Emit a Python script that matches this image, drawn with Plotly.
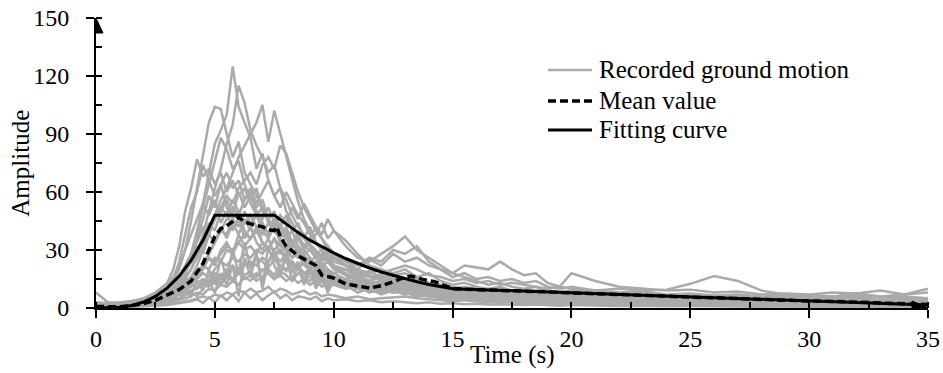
import plotly.graph_objects as go

# ---- time grids (s) ----
t_rec = [0, 0.5, 1, 1.5, 2, 2.5, 3, 3.25, 3.5, 3.75,
         4, 4.25, 4.5, 4.75, 5, 5.25, 5.5, 5.75, 6, 6.25,
         6.5, 6.75, 7, 7.25, 7.5, 7.75, 8, 8.25, 8.5, 8.75,
         9, 9.25, 9.5, 9.75, 10, 10.5, 11, 11.5, 12, 12.5,
         13, 13.5, 14, 14.5, 15, 15.5, 16, 16.5, 17, 17.5,
         18, 18.5, 19, 19.5, 20, 21, 22, 23, 24, 25,
         26, 27, 28, 29, 30, 31, 32, 33, 34, 35]

# ---- recorded ground motion amplitudes (one list per record) ----
rec01 = [1.5, 1.0, 1.2, 1.8, 2.5, 4.0, 6.5, 9.0, 12.0, 18.0,
         26.0, 38.0, 55.0, 70.0, 85.0, 92.0, 100.0, 125.0, 104.0, 96.0,
         88.0, 72.0, 80.0, 66.0, 58.0, 62.0, 50.0, 44.0, 38.0, 30.0,
         26.0, 22.0, 18.0, 20.0, 16.0, 13.0, 10.0, 9.0, 11.0, 13.0,
         12.0, 10.0, 9.0, 7.5, 6.0, 6.5, 5.5, 5.0, 4.5, 4.0,
         4.5, 3.5, 3.0, 3.5, 3.0, 2.5, 2.0, 2.5, 2.0, 1.5,
         2.0, 1.5, 1.0, 1.5, 1.0, 1.2, 0.8, 1.0, 0.8, 1.0]
rec02 = [2.0, 1.5, 1.8, 2.5, 3.5, 6.0, 10.0, 14.0, 20.0, 30.0,
         45.0, 62.0, 80.0, 96.0, 104.0, 103.0, 90.0, 78.0, 86.0, 70.0,
         64.0, 58.0, 52.0, 46.0, 40.0, 44.0, 36.0, 30.0, 27.0, 24.0,
         20.0, 18.0, 15.0, 14.0, 12.0, 14.0, 11.0, 9.0, 8.0, 10.0,
         9.0, 7.0, 6.5, 6.0, 5.0, 4.5, 5.0, 4.0, 3.5, 4.0,
         3.5, 3.0, 3.5, 2.5, 3.0, 2.0, 2.5, 2.0, 1.5, 2.0,
         1.5, 1.8, 1.2, 1.0, 1.5, 1.0, 1.2, 0.8, 1.0, 0.6]
rec03 = [1.0, 0.8, 1.0, 1.5, 2.0, 3.0, 5.0, 7.0, 9.0, 12.0,
         16.0, 22.0, 30.0, 38.0, 48.0, 56.0, 62.0, 70.0, 78.0, 84.0,
         90.0, 96.0, 105.0, 86.0, 102.0, 90.0, 78.0, 66.0, 55.0, 46.0,
         40.0, 34.0, 30.0, 26.0, 22.0, 18.0, 15.0, 13.0, 14.0, 12.0,
         11.0, 10.0, 8.5, 8.0, 7.0, 7.5, 6.5, 6.0, 6.5, 5.5,
         5.0, 5.5, 4.5, 4.0, 4.5, 4.0, 3.5, 3.0, 3.5, 3.0,
         2.5, 2.8, 2.5, 2.0, 2.2, 1.8, 2.0, 1.5, 1.8, 1.5]
rec04 = [2.5, 2.0, 2.5, 3.5, 5.0, 8.0, 13.0, 20.0, 32.0, 50.0,
         62.0, 77.0, 68.0, 72.0, 64.0, 70.0, 60.0, 66.0, 58.0, 62.0,
         54.0, 48.0, 52.0, 44.0, 40.0, 36.0, 32.0, 34.0, 28.0, 25.0,
         22.0, 24.0, 20.0, 18.0, 16.0, 15.0, 13.0, 12.0, 13.0, 11.0,
         10.0, 9.0, 8.0, 7.0, 6.5, 6.0, 5.5, 6.0, 5.0, 4.5,
         4.0, 4.5, 3.5, 3.0, 3.5, 3.0, 2.5, 3.0, 2.5, 2.0,
         2.2, 2.0, 1.5, 1.8, 1.5, 1.2, 1.5, 1.0, 1.2, 1.0]
rec05 = [1.0, 0.8, 1.2, 1.5, 2.5, 4.0, 6.0, 8.0, 11.0, 15.0,
         20.0, 28.0, 38.0, 50.0, 62.0, 72.0, 85.0, 95.0, 115.0, 106.0,
         92.0, 84.0, 78.0, 70.0, 74.0, 62.0, 56.0, 48.0, 42.0, 38.0,
         33.0, 30.0, 26.0, 24.0, 21.0, 17.0, 14.0, 12.0, 11.0, 12.0,
         10.0, 9.0, 8.0, 7.0, 6.0, 5.5, 6.0, 5.0, 4.5, 5.0,
         4.0, 3.5, 4.0, 3.0, 3.5, 2.5, 3.0, 2.5, 2.0, 2.5,
         2.0, 1.5, 1.8, 1.5, 1.2, 1.5, 1.0, 1.2, 1.0, 0.8]
rec06 = [1.5, 1.2, 1.5, 2.0, 3.0, 4.5, 7.0, 9.0, 12.0, 16.0,
         20.0, 26.0, 32.0, 40.0, 46.0, 52.0, 58.0, 54.0, 62.0, 66.0,
         70.0, 64.0, 74.0, 78.0, 72.0, 84.0, 80.0, 70.0, 60.0, 52.0,
         46.0, 40.0, 36.0, 30.0, 26.0, 22.0, 18.0, 16.0, 15.0, 13.0,
         12.0, 11.0, 10.0, 9.0, 8.5, 8.0, 7.5, 7.0, 7.5, 6.5,
         6.0, 6.5, 5.5, 5.0, 5.5, 5.0, 4.5, 4.0, 4.5, 4.0,
         3.5, 3.8, 3.2, 3.0, 3.2, 2.8, 3.0, 2.5, 2.8, 2.5]
rec07 = [2.0, 1.5, 2.0, 2.8, 4.0, 6.0, 9.0, 12.0, 16.0, 22.0,
         28.0, 34.0, 42.0, 38.0, 46.0, 52.0, 48.0, 56.0, 50.0, 44.0,
         48.0, 42.0, 38.0, 44.0, 40.0, 36.0, 40.0, 34.0, 38.0, 32.0,
         36.0, 42.0, 38.0, 46.0, 40.0, 32.0, 26.0, 24.0, 28.0, 32.0,
         37.0, 30.0, 26.0, 22.0, 18.0, 16.0, 14.0, 12.0, 13.0, 11.0,
         10.0, 11.0, 9.0, 8.0, 9.0, 8.0, 7.0, 6.5, 6.0, 5.5,
         5.0, 5.5, 4.5, 4.0, 4.5, 4.0, 3.5, 3.0, 3.2, 3.0]
rec08 = [3.0, 2.5, 3.0, 3.5, 4.5, 6.0, 8.0, 10.0, 12.0, 14.0,
         16.0, 18.0, 22.0, 20.0, 26.0, 24.0, 30.0, 28.0, 34.0, 30.0,
         32.0, 28.0, 34.0, 30.0, 36.0, 32.0, 30.0, 34.0, 28.0, 32.0,
         30.0, 26.0, 28.0, 24.0, 26.0, 22.0, 20.0, 25.0, 22.0, 28.0,
         24.0, 26.0, 22.0, 20.0, 18.0, 22.0, 21.0, 20.0, 24.0, 20.0,
         17.0, 18.0, 13.0, 11.0, 18.0, 14.0, 11.0, 10.0, 9.0, 9.5,
         8.0, 8.5, 7.0, 7.5, 7.0, 8.0, 7.5, 9.0, 7.0, 8.0]
rec09 = [1.0, 1.2, 1.5, 2.0, 2.5, 3.5, 5.0, 6.0, 8.0, 9.0,
         11.0, 13.0, 15.0, 14.0, 18.0, 16.0, 20.0, 22.0, 19.0, 24.0,
         22.0, 26.0, 24.0, 21.0, 25.0, 22.0, 20.0, 24.0, 21.0, 18.0,
         20.0, 17.0, 19.0, 16.0, 18.0, 15.0, 17.0, 14.0, 18.0, 20.0,
         22.0, 20.0, 17.0, 16.0, 14.0, 15.0, 13.0, 14.0, 12.0, 13.0,
         12.0, 11.0, 10.0, 11.0, 10.0, 9.0, 10.0, 9.0, 9.5, 12.5,
         16.5, 14.0, 9.0, 7.0, 6.5, 6.0, 6.5, 5.5, 6.0, 5.0]
rec10 = [2.0, 1.5, 2.0, 2.5, 3.0, 4.0, 5.0, 6.0, 7.0, 8.0,
         9.0, 10.0, 12.0, 11.0, 14.0, 12.0, 16.0, 14.0, 18.0, 15.0,
         17.0, 14.0, 16.0, 18.0, 15.0, 17.0, 14.0, 16.0, 13.0, 15.0,
         12.0, 14.0, 11.0, 13.0, 12.0, 10.0, 11.0, 9.0, 10.0, 11.0,
         12.0, 10.0, 11.0, 9.0, 8.0, 9.0, 8.0, 7.5, 8.0, 7.0,
         6.5, 7.0, 6.0, 6.5, 6.0, 5.5, 5.0, 5.5, 5.0, 4.5,
         4.0, 4.5, 4.0, 3.5, 3.8, 3.5, 3.0, 3.2, 2.8, 3.0]
rec11 = [0.5, 0.4, 0.6, 0.8, 1.0, 1.5, 2.0, 2.5, 3.0, 3.5,
         4.0, 5.0, 6.0, 5.0, 7.0, 6.0, 8.0, 7.0, 9.0, 8.0,
         10.0, 8.0, 9.0, 11.0, 8.0, 10.0, 9.0, 7.0, 8.0, 9.0,
         7.0, 8.0, 6.0, 7.0, 6.5, 5.0, 6.0, 4.5, 5.0, 5.5,
         6.0, 5.0, 4.5, 4.0, 3.5, 4.0, 3.5, 3.0, 3.5, 3.0,
         2.5, 3.0, 2.5, 2.0, 2.5, 2.0, 1.8, 2.0, 1.5, 1.8,
         1.5, 1.2, 1.5, 1.0, 1.2, 1.0, 0.8, 1.0, 0.8, 0.6]
rec12 = [1.2, 1.0, 1.2, 1.6, 2.2, 3.2, 4.5, 6.0, 8.0, 10.0,
         13.0, 17.0, 22.0, 28.0, 34.0, 40.0, 38.0, 46.0, 42.0, 50.0,
         44.0, 48.0, 40.0, 36.0, 42.0, 34.0, 30.0, 26.0, 28.0, 22.0,
         20.0, 18.0, 16.0, 17.0, 14.0, 12.0, 10.0, 9.0, 9.5, 8.0,
         8.5, 7.0, 6.5, 6.0, 5.0, 5.5, 4.5, 4.0, 4.5, 3.5,
         3.0, 3.5, 3.0, 2.5, 2.8, 2.2, 2.0, 2.2, 1.8, 1.5,
         1.6, 1.4, 1.2, 1.3, 1.0, 1.1, 0.9, 0.8, 0.9, 0.7]
rec13 = [1.8, 1.4, 1.6, 2.0, 2.6, 3.5, 4.5, 5.5, 7.0, 8.0,
         9.0, 11.0, 12.0, 14.0, 16.0, 15.0, 18.0, 20.0, 18.0, 22.0,
         24.0, 22.0, 26.0, 24.0, 28.0, 30.0, 26.0, 32.0, 36.0, 30.0,
         34.0, 38.0, 44.0, 36.0, 40.0, 35.0, 28.0, 22.0, 20.0, 18.0,
         20.0, 16.0, 18.0, 14.0, 12.0, 13.0, 11.0, 10.0, 11.0, 9.0,
         8.5, 9.0, 8.0, 7.0, 7.5, 6.5, 6.0, 5.5, 5.0, 5.5,
         4.5, 4.0, 4.5, 3.8, 3.5, 3.2, 3.0, 3.5, 2.8, 3.0]
rec14 = [8.0, 3.0, 2.5, 3.0, 3.5, 5.0, 7.0, 8.0, 10.0, 9.0,
         12.0, 10.0, 14.0, 12.0, 16.0, 13.0, 18.0, 15.0, 20.0, 17.0,
         19.0, 16.0, 20.0, 18.0, 15.0, 19.0, 17.0, 14.0, 18.0, 16.0,
         14.0, 17.0, 13.0, 15.0, 12.0, 14.0, 11.0, 12.0, 10.0, 11.0,
         10.0, 9.0, 10.0, 8.5, 8.0, 7.5, 8.0, 7.0, 6.5, 7.0,
         6.0, 6.5, 6.0, 5.5, 7.0, 6.0, 5.5, 6.0, 5.0, 5.5,
         5.0, 4.5, 5.0, 6.0, 5.5, 6.0, 7.5, 6.0, 7.0, 10.0]
rec15 = [1.0, 0.8, 1.0, 1.5, 2.2, 3.5, 5.5, 8.0, 12.0, 18.0,
         24.0, 30.0, 36.0, 44.0, 40.0, 50.0, 56.0, 48.0, 60.0, 52.0,
         58.0, 50.0, 46.0, 52.0, 44.0, 38.0, 42.0, 34.0, 30.0, 26.0,
         24.0, 20.0, 22.0, 18.0, 16.0, 14.0, 12.0, 13.0, 10.0, 11.0,
         9.0, 10.0, 8.0, 7.0, 6.0, 6.5, 5.0, 5.5, 4.5, 4.0,
         4.5, 3.5, 4.0, 3.0, 3.5, 3.0, 2.5, 2.0, 2.5, 2.0,
         1.8, 2.0, 1.5, 1.8, 1.2, 1.5, 1.0, 1.2, 1.0, 0.8]
rec16 = [2.2, 1.8, 2.2, 3.0, 4.5, 7.0, 11.0, 16.0, 22.0, 30.0,
         38.0, 46.0, 54.0, 48.0, 56.0, 44.0, 50.0, 40.0, 46.0, 36.0,
         42.0, 34.0, 30.0, 36.0, 28.0, 24.0, 28.0, 22.0, 20.0, 24.0,
         18.0, 20.0, 16.0, 14.0, 15.0, 12.0, 10.0, 11.0, 9.0, 10.0,
         8.0, 8.5, 7.0, 6.5, 6.0, 5.0, 5.5, 4.5, 5.0, 4.0,
         3.5, 4.0, 3.0, 3.5, 3.0, 2.5, 2.0, 2.5, 2.0, 1.8,
         1.5, 1.8, 1.2, 1.5, 1.0, 1.2, 0.8, 1.0, 0.7, 0.8]
rec17 = [0.8, 0.6, 0.8, 1.2, 1.8, 2.8, 4.0, 5.0, 7.0, 9.0,
         12.0, 16.0, 20.0, 26.0, 22.0, 30.0, 34.0, 28.0, 38.0, 32.0,
         36.0, 40.0, 34.0, 30.0, 36.0, 28.0, 32.0, 26.0, 30.0, 24.0,
         26.0, 22.0, 24.0, 20.0, 18.0, 20.0, 16.0, 14.0, 16.0, 17.0,
         18.0, 15.0, 13.0, 12.0, 10.0, 11.0, 9.0, 8.0, 9.0, 8.0,
         7.0, 7.5, 6.5, 6.0, 6.5, 5.5, 5.0, 5.5, 4.5, 4.0,
         4.5, 4.0, 3.5, 3.8, 3.2, 3.0, 2.8, 3.0, 2.5, 2.2]
rec18 = [1.5, 1.0, 1.2, 1.6, 2.0, 2.5, 3.5, 4.0, 5.0, 6.5,
         8.0, 6.0, 10.0, 14.0, 8.0, 18.0, 12.0, 22.0, 6.0, 26.0,
         16.0, 28.0, 10.0, 24.0, 30.0, 18.0, 26.0, 14.0, 22.0, 12.0,
         20.0, 10.0, 16.0, 8.0, 14.0, 10.0, 12.0, 8.0, 10.0, 9.0,
         7.0, 8.0, 6.0, 5.0, 5.5, 4.5, 5.0, 4.0, 3.5, 4.0,
         3.0, 3.5, 2.5, 3.0, 2.5, 2.0, 2.2, 1.8, 2.0, 1.5,
         1.5, 1.2, 1.4, 1.0, 1.2, 0.9, 1.0, 0.8, 0.9, 0.7]
rec19 = [1.2, 1.0, 1.4, 2.0, 3.0, 5.0, 8.0, 11.0, 15.0, 20.0,
         28.0, 36.0, 46.0, 58.0, 52.0, 64.0, 70.0, 62.0, 66.0, 56.0,
         60.0, 52.0, 56.0, 46.0, 50.0, 40.0, 36.0, 40.0, 32.0, 28.0,
         30.0, 26.0, 22.0, 24.0, 20.0, 17.0, 15.0, 13.0, 12.0, 14.0,
         13.0, 11.0, 10.0, 9.0, 8.0, 7.5, 7.0, 6.5, 6.0, 6.5,
         5.5, 5.0, 5.5, 4.5, 4.0, 4.5, 3.5, 3.0, 3.5, 3.0,
         2.5, 2.8, 2.2, 2.5, 2.0, 2.2, 1.8, 1.5, 1.8, 1.5]
rec20 = [0.6, 0.5, 0.7, 1.0, 1.5, 2.0, 3.0, 3.5, 4.5, 5.0,
         6.0, 8.0, 7.0, 10.0, 9.0, 12.0, 11.0, 14.0, 12.0, 16.0,
         14.0, 18.0, 15.0, 20.0, 17.0, 22.0, 19.0, 24.0, 20.0, 26.0,
         22.0, 28.0, 24.0, 30.0, 26.0, 24.0, 22.0, 26.0, 24.0, 30.0,
         28.0, 32.0, 24.0, 20.0, 16.0, 18.0, 15.0, 16.0, 14.0, 15.0,
         13.0, 14.0, 11.0, 10.0, 11.0, 9.0, 8.0, 8.5, 7.0, 7.5,
         6.5, 7.0, 6.0, 6.5, 5.5, 6.0, 5.0, 5.5, 4.5, 5.0]
rec21 = [1.8, 1.5, 1.8, 2.4, 3.4, 5.0, 7.5, 10.0, 14.0, 19.0,
         24.0, 32.0, 28.0, 38.0, 34.0, 42.0, 36.0, 44.0, 38.0, 46.0,
         40.0, 50.0, 44.0, 38.0, 46.0, 42.0, 48.0, 40.0, 44.0, 36.0,
         32.0, 28.0, 30.0, 24.0, 22.0, 20.0, 18.0, 19.0, 16.0, 15.0,
         14.0, 12.0, 11.0, 10.0, 9.0, 8.5, 8.0, 7.5, 7.0, 6.5,
         6.0, 5.5, 5.0, 5.5, 4.5, 4.0, 3.5, 4.0, 3.5, 3.0,
         3.0, 2.8, 2.5, 2.6, 2.2, 2.0, 2.2, 1.8, 2.0, 1.6]
rec22 = [0.4, 0.3, 0.4, 0.6, 0.8, 1.2, 1.6, 2.0, 2.5, 3.0,
         3.5, 4.5, 2.5, 5.5, 3.0, 6.5, 4.0, 7.0, 3.5, 8.0,
         5.0, 7.5, 4.0, 6.5, 8.5, 5.0, 7.0, 4.0, 6.0, 5.5,
         4.5, 6.0, 3.5, 5.0, 4.0, 4.5, 3.5, 4.0, 3.0, 3.5,
         3.0, 2.5, 3.0, 2.2, 2.5, 2.0, 2.2, 1.8, 2.0, 1.6,
         1.5, 1.8, 1.4, 1.2, 1.5, 1.2, 1.0, 1.2, 0.9, 1.0,
         0.8, 0.9, 0.7, 0.8, 0.6, 0.7, 0.5, 0.6, 0.5, 0.4]
rec23 = [2.4, 2.0, 2.4, 3.0, 4.0, 5.5, 7.0, 8.0, 9.5, 11.0,
         13.0, 15.0, 18.0, 16.0, 20.0, 24.0, 22.0, 26.0, 24.0, 28.0,
         26.0, 30.0, 28.0, 32.0, 30.0, 34.0, 36.0, 32.0, 40.0, 36.0,
         42.0, 34.0, 30.0, 28.0, 24.0, 22.0, 18.0, 16.0, 17.0, 15.0,
         14.0, 16.0, 13.0, 12.0, 11.0, 10.0, 11.0, 9.0, 10.0, 8.5,
         9.0, 8.0, 7.5, 8.5, 7.0, 7.5, 6.5, 7.0, 6.0, 6.5,
         5.5, 6.0, 5.0, 5.5, 4.5, 5.0, 4.5, 4.0, 4.5, 4.0]
rec24 = [1.4, 1.1, 1.3, 1.8, 2.8, 4.5, 7.5, 10.0, 14.0, 20.0,
         28.0, 40.0, 52.0, 64.0, 76.0, 88.0, 82.0, 72.0, 76.0, 64.0,
         56.0, 62.0, 50.0, 46.0, 42.0, 36.0, 40.0, 30.0, 26.0, 28.0,
         22.0, 20.0, 18.0, 16.0, 14.0, 12.0, 11.0, 10.0, 9.0, 8.0,
         8.5, 7.0, 6.5, 6.0, 5.5, 5.0, 4.5, 5.0, 4.0, 3.5,
         3.0, 3.5, 3.0, 2.5, 2.8, 2.2, 2.0, 2.2, 1.8, 1.6,
         1.5, 1.4, 1.2, 1.3, 1.0, 1.1, 0.9, 0.8, 0.9, 0.7]
rec25 = [1.6, 1.2, 1.6, 2.4, 3.6, 6.0, 10.0, 15.0, 24.0, 38.0,
         52.0, 60.0, 74.0, 66.0, 58.0, 64.0, 52.0, 46.0, 50.0, 40.0,
         36.0, 42.0, 34.0, 30.0, 26.0, 30.0, 24.0, 20.0, 22.0, 18.0,
         16.0, 15.0, 14.0, 12.0, 13.0, 11.0, 10.0, 9.0, 8.0, 9.0,
         8.0, 7.0, 6.0, 5.5, 5.0, 4.5, 5.0, 4.0, 3.5, 3.8,
         3.2, 3.0, 2.8, 3.0, 2.5, 2.2, 2.0, 1.8, 2.0, 1.6,
         1.5, 1.4, 1.2, 1.3, 1.1, 1.0, 1.1, 0.9, 0.8, 0.9]
rec26 = [0.9, 0.7, 0.9, 1.3, 2.0, 3.0, 4.5, 6.0, 8.0, 11.0,
         14.0, 18.0, 22.0, 28.0, 34.0, 40.0, 46.0, 52.0, 48.0, 56.0,
         62.0, 54.0, 60.0, 66.0, 58.0, 52.0, 60.0, 54.0, 48.0, 44.0,
         38.0, 34.0, 30.0, 32.0, 26.0, 22.0, 19.0, 17.0, 15.0, 14.0,
         13.0, 12.0, 10.0, 9.0, 8.0, 7.5, 7.0, 6.5, 6.0, 5.5,
         5.0, 4.8, 4.5, 4.0, 4.2, 3.6, 3.2, 3.4, 3.0, 2.8,
         2.5, 2.6, 2.2, 2.0, 2.2, 1.8, 1.6, 1.8, 1.5, 1.4]
rec27 = [1.1, 0.9, 1.1, 1.5, 2.0, 3.0, 4.0, 6.0, 4.5, 9.0,
         6.0, 14.0, 9.0, 20.0, 12.0, 26.0, 15.0, 30.0, 18.0, 34.0,
         20.0, 28.0, 12.0, 32.0, 22.0, 16.0, 30.0, 18.0, 24.0, 14.0,
         22.0, 12.0, 18.0, 10.0, 16.0, 12.0, 8.0, 10.0, 7.0, 9.0,
         8.0, 6.0, 7.0, 5.0, 4.5, 5.0, 4.0, 4.5, 3.5, 3.0,
         3.5, 2.8, 3.0, 2.5, 2.6, 2.2, 2.0, 1.8, 2.0, 1.6,
         1.4, 1.6, 1.2, 1.3, 1.0, 1.2, 0.9, 1.0, 0.8, 0.9]
rec28 = [2.6, 2.2, 2.6, 3.2, 4.2, 5.8, 7.5, 9.0, 11.0, 13.0,
         16.0, 19.0, 22.0, 26.0, 24.0, 28.0, 32.0, 30.0, 34.0, 38.0,
         36.0, 40.0, 44.0, 38.0, 42.0, 48.0, 44.0, 52.0, 46.0, 54.0,
         48.0, 42.0, 36.0, 32.0, 28.0, 24.0, 20.0, 18.0, 20.0, 16.0,
         15.0, 14.0, 12.0, 11.0, 10.0, 10.5, 9.0, 9.5, 8.0, 8.5,
         7.5, 8.0, 7.0, 6.5, 7.0, 6.0, 5.5, 6.0, 5.0, 5.0,
         4.5, 4.8, 4.2, 4.0, 3.8, 3.5, 3.2, 3.4, 3.0, 2.8]

records = [rec01, rec02, rec03, rec04, rec05, rec06, rec07, rec08,
           rec09, rec10, rec11, rec12, rec13, rec14, rec15, rec16,
           rec17, rec18, rec19, rec20, rec21, rec22, rec23, rec24,
           rec25, rec26, rec27, rec28]

# ---- mean value of the records ----
t_mean = [0, 0.5, 1, 1.5, 2, 2.5, 3, 3.5, 4, 4.5,
          5, 5.25, 5.5, 5.75, 6, 6.25, 6.5, 7, 7.25, 7.5,
          7.6, 7.75, 8, 8.5, 9, 9.25, 9.5, 10, 10.5, 11,
          11.5, 12, 12.5, 13, 13.25, 13.75, 14.25, 14.6, 15, 16,
          17, 18, 19, 20, 21, 22, 23, 24, 25, 26,
          27, 28, 29, 30, 31, 32, 33, 34, 35]
mean_val = [0.8, 0.5, 0.6, 1.2, 2.2, 4.0, 6.8, 9.5, 14.0, 23.0,
            37.0, 41.0, 42.5, 45.0, 47.0, 44.5, 43.5, 42.0, 40.5, 40.0,
            42.0, 37.0, 32.0, 27.0, 24.0, 22.0, 17.0, 15.5, 12.5, 11.3,
            10.3, 11.5, 13.5, 16.0, 16.5, 14.8, 13.6, 12.0, 10.0, 9.5,
            9.2, 8.6, 8.3, 7.8, 7.6, 7.0, 6.6, 6.0, 5.6, 5.3,
            4.8, 4.3, 3.9, 3.6, 3.4, 3.0, 2.6, 2.2, 1.8]

# ---- fitted envelope ----
t_fit = [0, 0.5, 1, 1.5, 2, 2.5, 3, 3.5, 4, 4.5,
         5, 7.5, 8, 8.5, 9, 9.5, 10, 10.5, 11, 11.5,
         12, 12.5, 13, 13.5, 14, 14.5, 15, 20, 25, 30, 35]
fit_val = [0, 0.05, 0.4, 1.3, 3.1, 6.0, 10.4, 16.5, 24.6, 35.0,
           48.0, 48.0, 43.5, 39.0, 35.0, 31.6, 28.5, 25.6, 23.0, 20.7,
           18.6, 16.8, 15.1, 13.6, 12.2, 11.0, 10.0, 7.9, 5.75, 3.6, 1.5]

FONT = "Liberation Serif, Times New Roman, serif"
GREY = "#aaaaaa"
MEAN_DASH = "8px,4px"
NBSP = "\u00a0"

fig = go.Figure()

for rec in records:
    fig.add_trace(go.Scatter(
        x=t_rec, y=rec, mode="lines",
        line=dict(color=GREY, width=2.5),
        name="Recorded ground motion", showlegend=False,
        hoverinfo="skip"))

fig.add_trace(go.Scatter(
    x=t_fit, y=fit_val, mode="lines",
    line=dict(color="black", width=3),
    name="Fitting curve", showlegend=False))

fig.add_trace(go.Scatter(
    x=t_mean, y=mean_val, mode="lines",
    line=dict(color="black", width=3.5, dash=MEAN_DASH),
    name="Mean value", showlegend=False))

axis_common = dict(showgrid=False, zeroline=False, showline=True,
                   linecolor="#000000", linewidth=2, automargin=False,
                   layer="above traces", tickmode="linear", tick0=0,
                   tickcolor="#000000", tickwidth=2,
                   tickfont=dict(family=FONT, size=24, color="black"))

fig.update_layout(
    template="none",
    width=943, height=373,
    margin=dict(l=96, r=15, t=18, b=65),
    paper_bgcolor="white", plot_bgcolor="white",
    font=dict(family=FONT, size=24, color="black"),
    showlegend=False,
    xaxis=dict(range=[0, 35], dtick=5, ticks="outside", ticklen=8,
               minor=dict(tickmode="linear", tick0=0, dtick=2.5,
                          ticks="inside", ticklen=6, tickwidth=2,
                          tickcolor="#000000"),
               **axis_common),
    yaxis=dict(range=[0, 150], dtick=30, ticks="outside", ticklen=8,
               ticksuffix=NBSP * 2,
               minor=dict(tickmode="linear", tick0=0, dtick=15,
                          ticks="inside", ticklen=6, tickwidth=2,
                          tickcolor="#000000"),
               **axis_common),
)

# axis arrowheads
fig.add_shape(type="path", xref="x", yref="y",
              xsizemode="pixel", ysizemode="pixel", xanchor=0, yanchor=150,
              path="M0,0 L-7,-15 L7,-15 Z",
              fillcolor="black", line=dict(color="black", width=1))
fig.add_shape(type="path", xref="x", yref="y",
              xsizemode="pixel", ysizemode="pixel", xanchor=35, yanchor=0,
              path="M0,0 L-16,7 L-16,-7 Z",
              fillcolor="black", line=dict(color="black", width=1))

# legend: sample line + label for each series
legend_items = [
    ("Recorded ground motion", GREY, 2.5, "solid", 0.8207),
    ("Mean value", "black", 3.5, MEAN_DASH, 0.7138),
    ("Fitting curve", "black", 3, "solid", 0.6138),
]
for label, color, width, dash, ypos in legend_items:
    fig.add_shape(type="line", xref="paper", yref="paper",
                  x0=0.5433, x1=0.5962, y0=ypos, y1=ypos,
                  line=dict(color=color, width=width, dash=dash))
    fig.add_annotation(text=label, xref="paper", yref="paper",
                       x=0.6022, y=ypos, xanchor="left", yanchor="middle",
                       showarrow=False,
                       font=dict(family=FONT, size=25, color="black"))

# axis titles
fig.add_annotation(text="Time (s)", xref="paper", yref="paper",
                   x=0.5, y=-0.161, xanchor="center", yanchor="middle",
                   showarrow=False, font=dict(family=FONT, size=25))
fig.add_annotation(text="Amplitude", xref="paper", yref="paper",
                   x=-0.0917, y=0.5, xanchor="center", yanchor="middle",
                   textangle=-90, showarrow=False,
                   font=dict(family=FONT, size=25))

fig.write_html("out.html")
